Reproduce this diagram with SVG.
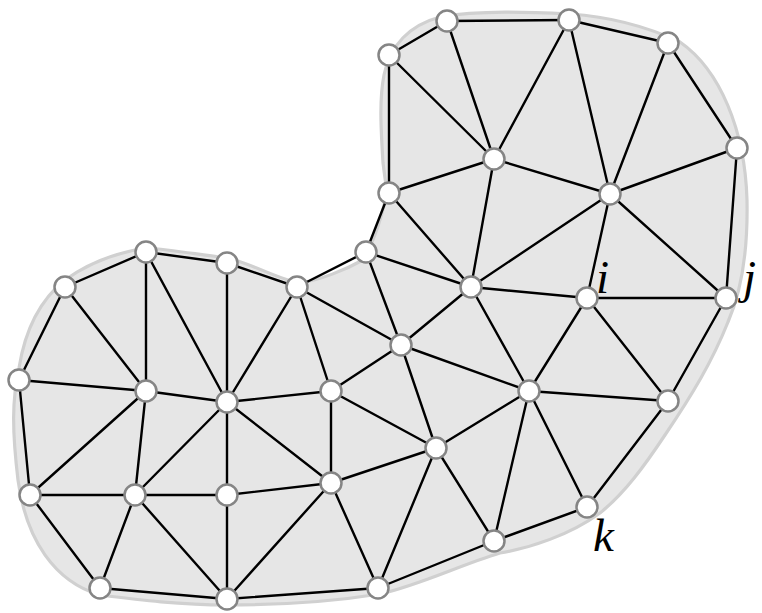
<svg xmlns="http://www.w3.org/2000/svg" width="762" height="613" viewBox="0 0 762 613">
<style>
.blob{fill:#e6e6e6;stroke:#d0d0d0;stroke-width:3.2}
.e line{stroke:#000;stroke-width:2.4;stroke-linecap:round}
.n circle{fill:#fff;stroke:#858585;stroke-width:2.5}
.lbl{font-family:"Liberation Serif",serif;font-style:italic;font-size:47px;fill:#000}
</style>
<path class="blob" d="M 383,163 C 381,130 379,100 384,75 C 390,45 410,25 440,17 C 480,10 530,12 570,14 C 615,17 650,28 680,42 C 720,70 745,130 747,200 C 748,250 742,290 728,322 C 712,362 692,395 665,435 C 645,465 625,493 600,513 C 570,535 530,548 500,553 C 460,565 420,585 380,594 C 330,602 280,605 227,605 C 180,605 140,600 100,595 C 55,582 26,540 18,480 C 12,430 12,400 19,368 C 25,330 40,300 65,280 C 90,262 120,252 146,248 C 175,250 200,255 228,258 C 255,265 280,280 300,283 C 320,280 345,270 363,260 C 375,240 384,210 387,190 C 385,180 384,170 383,163 Z"/>
<g id="connectors" class="e">
<line x1="389" y1="55" x2="447" y2="21"/>
<line x1="447" y1="21" x2="569" y2="20"/>
<line x1="569" y1="20" x2="668" y2="43"/>
<line x1="668" y1="43" x2="737" y2="148"/>
<line x1="389" y1="55" x2="389" y2="193"/>
<line x1="389" y1="55" x2="494" y2="159"/>
<line x1="447" y1="21" x2="494" y2="159"/>
<line x1="569" y1="20" x2="494" y2="159"/>
<line x1="569" y1="20" x2="610" y2="194"/>
<line x1="668" y1="43" x2="610" y2="194"/>
<line x1="494" y1="159" x2="389" y2="193"/>
<line x1="494" y1="159" x2="610" y2="194"/>
<line x1="610" y1="194" x2="737" y2="148"/>
<line x1="737" y1="148" x2="726" y2="298"/>
<line x1="389" y1="193" x2="366" y2="252"/>
<line x1="494" y1="159" x2="471" y2="287"/>
<line x1="610" y1="194" x2="471" y2="287"/>
<line x1="610" y1="194" x2="587" y2="298"/>
<line x1="610" y1="194" x2="726" y2="298"/>
<line x1="389" y1="193" x2="471" y2="287"/>
<line x1="366" y1="252" x2="471" y2="287"/>
<line x1="366" y1="252" x2="401" y2="345"/>
<line x1="366" y1="252" x2="297" y2="287"/>
<line x1="471" y1="287" x2="587" y2="298"/>
<line x1="587" y1="298" x2="726" y2="298"/>
<line x1="471" y1="287" x2="401" y2="345"/>
<line x1="471" y1="287" x2="529" y2="391"/>
<line x1="587" y1="298" x2="529" y2="391"/>
<line x1="587" y1="298" x2="668" y2="401"/>
<line x1="726" y1="298" x2="668" y2="401"/>
<line x1="401" y1="345" x2="529" y2="391"/>
<line x1="401" y1="345" x2="331" y2="391"/>
<line x1="529" y1="391" x2="668" y2="401"/>
<line x1="297" y1="287" x2="401" y2="345"/>
<line x1="297" y1="287" x2="331" y2="391"/>
<line x1="65" y1="287" x2="146" y2="252"/>
<line x1="146" y1="252" x2="227" y2="263"/>
<line x1="227" y1="263" x2="297" y2="287"/>
<line x1="65" y1="287" x2="19" y2="380"/>
<line x1="65" y1="287" x2="146" y2="391"/>
<line x1="146" y1="252" x2="146" y2="391"/>
<line x1="146" y1="252" x2="227" y2="402"/>
<line x1="227" y1="263" x2="227" y2="402"/>
<line x1="297" y1="287" x2="227" y2="402"/>
<line x1="19" y1="380" x2="146" y2="391"/>
<line x1="146" y1="391" x2="227" y2="402"/>
<line x1="227" y1="402" x2="331" y2="391"/>
<line x1="331" y1="391" x2="331" y2="483"/>
<line x1="331" y1="391" x2="436" y2="448"/>
<line x1="19" y1="380" x2="30" y2="495"/>
<line x1="146" y1="391" x2="30" y2="495"/>
<line x1="146" y1="391" x2="135" y2="495"/>
<line x1="227" y1="402" x2="135" y2="495"/>
<line x1="227" y1="402" x2="227" y2="495"/>
<line x1="227" y1="402" x2="331" y2="483"/>
<line x1="30" y1="495" x2="135" y2="495"/>
<line x1="135" y1="495" x2="227" y2="495"/>
<line x1="227" y1="495" x2="331" y2="483"/>
<line x1="331" y1="483" x2="436" y2="448"/>
<line x1="30" y1="495" x2="100" y2="588"/>
<line x1="135" y1="495" x2="100" y2="588"/>
<line x1="135" y1="495" x2="227" y2="599"/>
<line x1="227" y1="495" x2="227" y2="599"/>
<line x1="331" y1="483" x2="227" y2="599"/>
<line x1="331" y1="483" x2="378" y2="588"/>
<line x1="100" y1="588" x2="227" y2="599"/>
<line x1="227" y1="599" x2="378" y2="588"/>
<line x1="378" y1="588" x2="436" y2="448"/>
<line x1="378" y1="588" x2="494" y2="541"/>
<line x1="401" y1="345" x2="436" y2="448"/>
<line x1="529" y1="391" x2="436" y2="448"/>
<line x1="529" y1="391" x2="494" y2="541"/>
<line x1="529" y1="391" x2="587" y2="507"/>
<line x1="668" y1="401" x2="587" y2="507"/>
<line x1="436" y1="448" x2="494" y2="541"/>
<line x1="494" y1="541" x2="587" y2="507"/>
</g>
<g id="n1" class="n"><circle cx="389" cy="55" r="10.5"/></g>
<g id="n2" class="n"><circle cx="447" cy="21" r="10.5"/></g>
<g id="n3" class="n"><circle cx="569" cy="20" r="10.5"/></g>
<g id="n4" class="n"><circle cx="668" cy="43" r="10.5"/></g>
<g id="n5" class="n"><circle cx="737" cy="148" r="10.5"/></g>
<g id="n6" class="n"><circle cx="494" cy="159" r="10.5"/></g>
<g id="n7" class="n"><circle cx="610" cy="194" r="10.5"/></g>
<g id="n8" class="n"><circle cx="389" cy="193" r="10.5"/></g>
<g id="n9" class="n"><circle cx="366" cy="252" r="10.5"/></g>
<g id="n10" class="n"><circle cx="471" cy="287" r="10.5"/></g>
<g id="n11" class="n"><circle cx="587" cy="298" r="10.5"/><text class="lbl" x="596" y="293">i</text></g>
<g id="n12" class="n"><circle cx="726" cy="298" r="10.5"/><text class="lbl" x="743" y="293">j</text></g>
<g id="n13" class="n"><circle cx="146" cy="252" r="10.5"/></g>
<g id="n14" class="n"><circle cx="227" cy="263" r="10.5"/></g>
<g id="n15" class="n"><circle cx="297" cy="287" r="10.5"/></g>
<g id="n16" class="n"><circle cx="65" cy="287" r="10.5"/></g>
<g id="n17" class="n"><circle cx="401" cy="345" r="10.5"/></g>
<g id="n18" class="n"><circle cx="19" cy="380" r="10.5"/></g>
<g id="n19" class="n"><circle cx="146" cy="391" r="10.5"/></g>
<g id="n20" class="n"><circle cx="227" cy="402" r="10.5"/></g>
<g id="n21" class="n"><circle cx="331" cy="391" r="10.5"/></g>
<g id="n22" class="n"><circle cx="529" cy="391" r="10.5"/></g>
<g id="n23" class="n"><circle cx="668" cy="401" r="10.5"/></g>
<g id="n24" class="n"><circle cx="436" cy="448" r="10.5"/></g>
<g id="n25" class="n"><circle cx="30" cy="495" r="10.5"/></g>
<g id="n26" class="n"><circle cx="135" cy="495" r="10.5"/></g>
<g id="n27" class="n"><circle cx="227" cy="495" r="10.5"/></g>
<g id="n28" class="n"><circle cx="331" cy="483" r="10.5"/></g>
<g id="n29" class="n"><circle cx="587" cy="507" r="10.5"/><text class="lbl" x="593" y="551">k</text></g>
<g id="n30" class="n"><circle cx="494" cy="541" r="10.5"/></g>
<g id="n31" class="n"><circle cx="100" cy="588" r="10.5"/></g>
<g id="n32" class="n"><circle cx="227" cy="599" r="10.5"/></g>
<g id="n33" class="n"><circle cx="378" cy="588" r="10.5"/></g>
</svg>
